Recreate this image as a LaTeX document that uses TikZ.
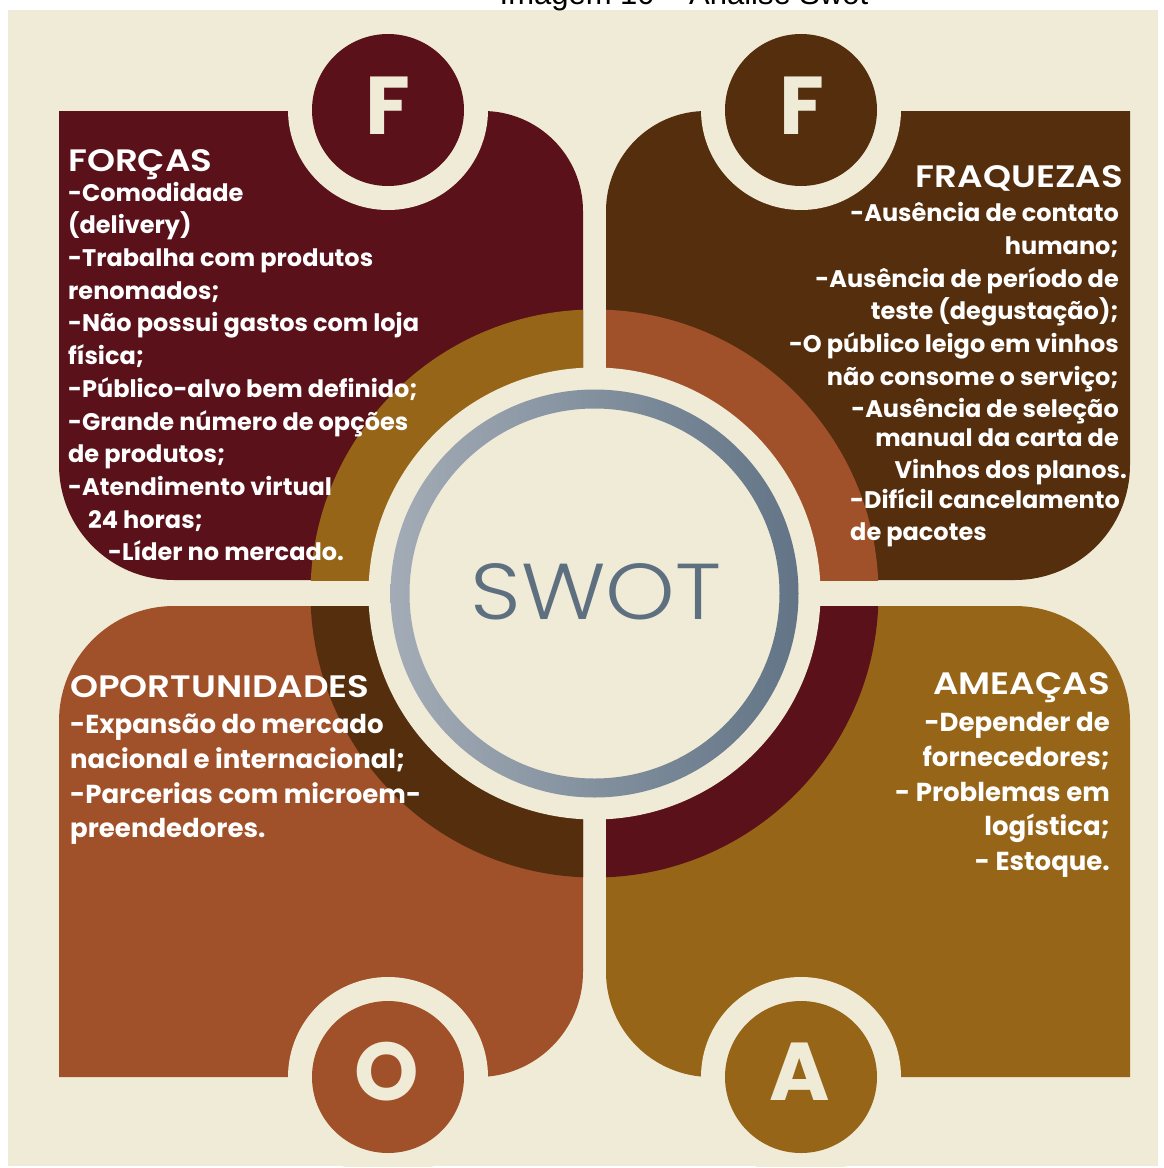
\documentclass[tikz,border=0pt]{standalone}
\usepackage{fontspec}
\setmainfont{Poppins}
\newfontfamily\capfont{Liberation Sans}
\IfFontExistsTF{Poppins Light}{\newfontfamily\swotfont{Poppins Light}}{\newfontfamily\swotfont{Poppins}}
\IfFontExistsTF{Poppins SemiBold}{\newfontfamily\headfont{Poppins SemiBold}}{\newfontfamily\headfont{Poppins}[UprightFont=*Bold]}
\definecolor{bg}{HTML}{EFEBD7}
\definecolor{cF}{HTML}{5A1119}
\definecolor{cW}{HTML}{552E0D}
\definecolor{cO}{HTML}{A0512A}
\definecolor{cA}{HTML}{966517}
\definecolor{gL}{HTML}{A3ACB6}
\definecolor{gD}{HTML}{627486}
\definecolor{swotc}{HTML}{5E6F80}
\newcommand\fsz[1]{\fontsize{#1}{#1}\selectfont}
\newcommand\hx[1]{\scalebox{1.15}[1]{#1}}
\begin{document}
\begin{tikzpicture}[x=1pt,y=-1pt,
  head/.style={inner sep=0pt, text=white, font=\headfont\fsz{31}},
  bodyA/.style={inner sep=0pt, text=white, font=\bfseries\fsz{24}},
  bodyB/.style={inner sep=0pt, text=white, font=\bfseries\fsz{26}},
  letter/.style={inner sep=0pt, text=bg, font=\bfseries\fsz{82}},
]
\useasboundingbox (0,0) rectangle (1163,1168);
\fill[white] (0,0) rectangle (1163,1168);
\fill[bg] (8,10) rectangle (1158,1166);
\begin{scope}
  \clip (0,0) rectangle (1163,1168);
  \node[font=\capfont\fsz{31}, anchor=base, inner sep=0pt] (cap) at (684,4) {Imagem 10 – Análise Swot};
\end{scope}

% panels
\fill[cF] (59,111) -- (483,111) arc[start angle=-90, end angle=0, radius=100]
  -- (583,580) -- (174,580) arc[start angle=90, end angle=180, radius=115] -- cycle;
\fill[cW] (1130,111) -- (706,111) arc[start angle=-90, end angle=-180, radius=100]
  -- (606,580) -- (1015,580) arc[start angle=90, end angle=0, radius=115] -- cycle;
\fill[cO] (59,1077) -- (478,1077) arc[start angle=90, end angle=0, radius=105]
  -- (583,606) -- (174,606) arc[start angle=-90, end angle=-180, radius=115] -- cycle;
\fill[cA] (1130,1077) -- (711,1077) arc[start angle=90, end angle=180, radius=105]
  -- (606,606) -- (1015,606) arc[start angle=-90, end angle=0, radius=115] -- cycle;

% letter circles
\begin{scope}
  \clip (8,10) rectangle (1158,1166);
  \foreach \cx/\cy/\col in {388/110/cF, 801/110/cW, 388/1077/cO, 801/1077/cA}{
    \fill[bg] (\cx,\cy) circle (100);
    \fill[\col] (\cx,\cy) circle (76);
  }
\end{scope}
\node[letter] (lF1) at (388,106) {F};
\node[letter] (lF2) at (802,106) {F};
\node[letter] (lO) at (387,1072) {O};
\node[letter] (lA) at (800,1072) {A};

% annulus quadrants
\coordinate (C) at (594.5,593.5);
\begin{scope}\clip (0,0) rectangle (583,580); \fill[cA] (C) circle (284); \end{scope}
\begin{scope}\clip (606,0) rectangle (1163,580); \fill[cO] (C) circle (284); \end{scope}
\begin{scope}\clip (0,606) rectangle (583,1168); \fill[cW] (C) circle (284); \end{scope}
\begin{scope}\clip (606,606) rectangle (1163,1168); \fill[cF] (C) circle (284); \end{scope}
\fill[bg] (C) circle (226);
\shade[left color=gL, right color=gD, even odd rule] (C) circle (204) (C) circle (185);
\node[inner sep=0pt, text=swotc, font=\swotfont\fsz{78}] (swot) at (596,592) {\resizebox{251pt}{56pt}{SWOT}};

% FORCAS
\node[head, anchor=base west] (hF) at (68,171) {\hx{FORÇAS}};
\foreach \x/\y/\t [count=\i] in {68/201/{-Comodidade}, 68/233/{(delivery)},
  68/266/{-Trabalha com produtos}, 68/299/{renomados;}, 68/331/{-Não possui gastos com loja},
  68/364/{física;}, 68/397/{-Público-alvo bem definido;}, 68/430/{-Grande número de opções},
  68/462/{de produtos;}, 68/495/{-Atendimento virtual}, 88/528/{24 horas;}, 108/560/{-Líder no mercado.}}
  \node[bodyA, anchor=base west] (tF\i) at (\x,\y) {\t};

% FRAQUEZAS
\node[head, anchor=base east] (hW) at (1123,187) {\hx{FRAQUEZAS}};
\foreach \x/\y/\t [count=\i] in {1119/221/{-Ausência de contato}, 1119/254/{humano;},
  1119/287/{-Ausência de período de}, 1119/319/{teste (degustação);},
  1119/352/{-O público leigo em vinhos}, 1119/385/{não consome o serviço;},
  1119/417/{-Ausência de seleção}, 1119/446/{manual da carta de},
  1127/478/{Vinhos dos planos.}}
  \node[bodyA, anchor=base east] (tW\i) at (\x,\y) {\t};
\node[bodyA, anchor=base west] (tW10) at (850,508) {-Difícil cancelamento};
\node[bodyA, anchor=base west] (tW11) at (850,540) {de pacotes};

% OPORTUNIDADES
\node[head, anchor=base west] (hO) at (70,697) {\hx{OPORTUNIDADES}};
\foreach \y/\t [count=\i] in {733/{-Expansão do mercado}, 768/{nacional e internacional;},
  803/{-Parcerias com microem-}, 837/{preendedores.}}
  \node[bodyB, anchor=base west] (tO\i) at (70,\y) {\t};

% AMEACAS
\node[head, anchor=base east] (hA) at (1110,694) {\hx{AMEAÇAS}};
\foreach \y/\t [count=\i] in {731/{-Depender de}, 766/{fornecedores;}, 801/{- Problemas em},
  835/{logística;}, 870/{- Estoque.}}
  \node[bodyB, anchor=base east] (tA\i) at (1110,\y) {\t};
\end{tikzpicture}
\end{document}
